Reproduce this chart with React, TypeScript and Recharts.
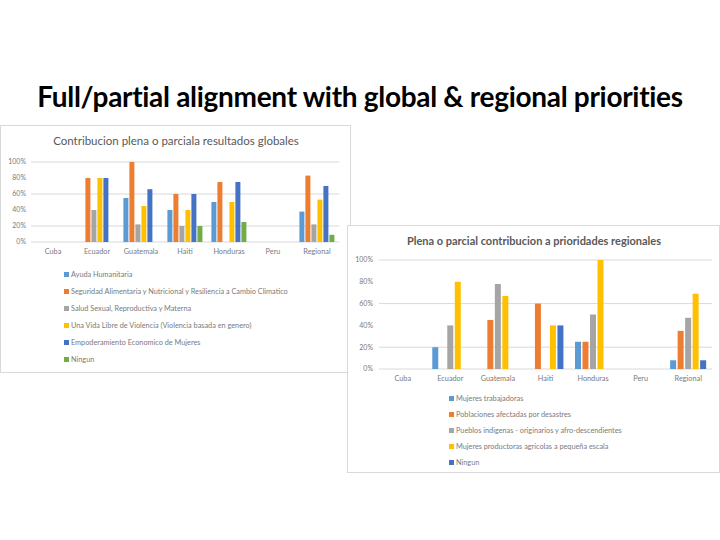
import React from 'react';
import { BarChart, Bar, XAxis, YAxis, CartesianGrid } from 'recharts';

// Categories shared by both charts
const countries = ['Cuba', 'Ecuador', 'Guatemala', 'Haiti', 'Honduras', 'Peru', 'Regional'];
const yTicks = [0, 20, 40, 60, 80, 100];

// Global results (values in %)
const globalNames = [
  'Ayuda Humanitaria',
  'Seguridad Alimentaria y Nutricional y Resiliencia a Cambio Climatico',
  'Salud Sexual, Reproductiva y Materna',
  'Una Vida Libre de Violencia (Violencia basada en genero)',
  'Empoderamiento Economico de Mujeres',
  'Ningun',
];
const ayudaHumanitaria = [0, 0, 55, 40, 50, 0, 38];
const seguridadAlimentaria = [0, 80, 100, 60, 75, 0, 83];
const saludSexual = [0, 40, 22, 20, 0, 0, 22];
const vidaLibre = [0, 80, 45, 40, 50, 0, 53];
const empoderamiento = [0, 80, 66, 60, 75, 0, 70];
const ningunGlobal = [0, 0, 0, 20, 25, 0, 9];

// Regional priorities (values in %)
const regionalNames = [
  'Mujeres trabajadoras',
  'Poblaciones afectadas por desastres',
  'Pueblos indigenas - originarios y afro-descendientes',
  'Mujeres productoras agricolas a pequeña escala',
  'Ningun',
];
const mujeresTrabajadoras = [0, 20, 0, 0, 25, 0, 8];
const poblacionesAfectadas = [0, 0, 45, 60, 25, 0, 35];
const pueblosIndigenas = [0, 40, 78, 0, 50, 0, 47];
const mujeresProductoras = [0, 80, 67, 40, 100, 0, 69];
const ningunRegional = [0, 0, 0, 40, 0, 0, 8];

const globalColors = ['#5B9BD5', '#ED7D31', '#A5A5A5', '#FFC000', '#4472C4', '#70AD47'];
const regionalColors = ['#5B9BD5', '#ED7D31', '#A5A5A5', '#FFC000', '#4472C4'];

const globalSeries = [ayudaHumanitaria, seguridadAlimentaria, saludSexual, vidaLibre, empoderamiento, ningunGlobal];
const regionalSeries = [mujeresTrabajadoras, poblacionesAfectadas, pueblosIndigenas, mujeresProductoras, ningunRegional];

const buildRows = (series: number[][]) =>
  countries.map((c, i) => {
    const row: { [key: string]: string | number } = { name: c };
    series.forEach((s, k) => { row[`s${k}`] = s[i]; });
    return row;
  });

const globalData = buildRows(globalSeries);
const regionalData = buildRows(regionalSeries);

const FONT = 'Lato, "Open Sans", sans-serif';
const TEXT = '#7a7a7a';

const Legend = ({ names, colors, left, top, step }: { names: string[]; colors: string[]; left: number; top: number; step: number }) => (
  <div style={{ position: 'absolute', left, top, fontFamily: FONT, fontSize: 7.3, color: TEXT }}>
    {names.map((n, i) => (
      <div key={n} style={{ height: step, display: 'flex', alignItems: 'center', whiteSpace: 'nowrap' }}>
        <span style={{ width: 5, height: 5, background: colors[i], marginRight: 2, display: 'inline-block' }} />
        {n}
      </div>
    ))}
  </div>
);

const App: React.FC = () => (
  <div style={{ position: 'absolute', left: 0, top: 0, width: 720, height: 540, background: '#fff', overflow: 'hidden' }}>
    <div style={{
      position: 'absolute', left: 0, width: 720, top: 79, textAlign: 'center',
      fontFamily: FONT, fontWeight: 700, fontSize: 28, color: '#000', letterSpacing: -0.3,
    }}>
      Full/partial alignment with global &amp; regional priorities
    </div>

    {/* Global chart */}
    <div style={{ position: 'absolute', left: 0, top: 125, width: 349, height: 246, border: '1px solid #d9d9d9', background: '#fff' }}>
      <div style={{ position: 'absolute', left: 0, width: 350, top: 8, textAlign: 'center', fontFamily: FONT, fontSize: 11.5, color: '#595959' }}>
        Contribucion plena o parciala resultados globales
      </div>
      <BarChart width={350} height={247} data={globalData} margin={{ top: 36, right: 12, left: 0, bottom: 111 }}
        barCategoryGap="10%" barGap={1}>
        <CartesianGrid vertical={false} stroke="#d9d9d9" />
        <XAxis dataKey="name" height={20} axisLine={false} tickLine={false} tickSize={0} tickMargin={7} interval={0}
          tick={{ fontSize: 7.3, fill: TEXT, fontFamily: FONT }} />
        <YAxis width={30} domain={[0, 100]} ticks={yTicks} axisLine={false} tickLine={false} tickSize={0} tickMargin={5}
          tickFormatter={(v) => `${v}%`} tick={{ fontSize: 7, fill: TEXT, fontFamily: FONT }} />
        {globalNames.map((n, k) => (
          <Bar key={n} dataKey={`s${k}`} name={n} fill={globalColors[k]} isAnimationActive={false} />
        ))}
      </BarChart>
      <Legend names={globalNames} colors={globalColors} left={63} top={140} step={17} />
    </div>

    {/* Regional chart */}
    <div style={{ position: 'absolute', left: 347, top: 225, width: 371, height: 246, border: '1px solid #d9d9d9', background: '#fff' }}>
      <div style={{ position: 'absolute', left: 0, width: 372, top: 8, textAlign: 'center', fontFamily: FONT, fontWeight: 700, fontSize: 11, color: '#595959' }}>
        Plena o parcial contribucion a prioridades regionales
      </div>
      <BarChart width={372} height={247} data={regionalData} margin={{ top: 34, right: 8, left: 0, bottom: 84 }}
        barCategoryGap="12%" barGap={1.5}>
        <CartesianGrid vertical={false} stroke="#d9d9d9" />
        <XAxis dataKey="name" height={20} axisLine={false} tickLine={false} tickSize={0} tickMargin={7} interval={0}
          tick={{ fontSize: 7.3, fill: TEXT, fontFamily: FONT }} />
        <YAxis width={31} domain={[0, 100]} ticks={yTicks} axisLine={false} tickLine={false} tickSize={0} tickMargin={6}
          tickFormatter={(v) => `${v}%`} tick={{ fontSize: 7, fill: TEXT, fontFamily: FONT }} />
        {regionalNames.map((n, k) => (
          <Bar key={n} dataKey={`s${k}`} name={n} fill={regionalColors[k]} isAnimationActive={false} />
        ))}
      </BarChart>
      <Legend names={regionalNames} colors={regionalColors} left={101} top={164} step={16} />
    </div>
  </div>
);

export default App;
